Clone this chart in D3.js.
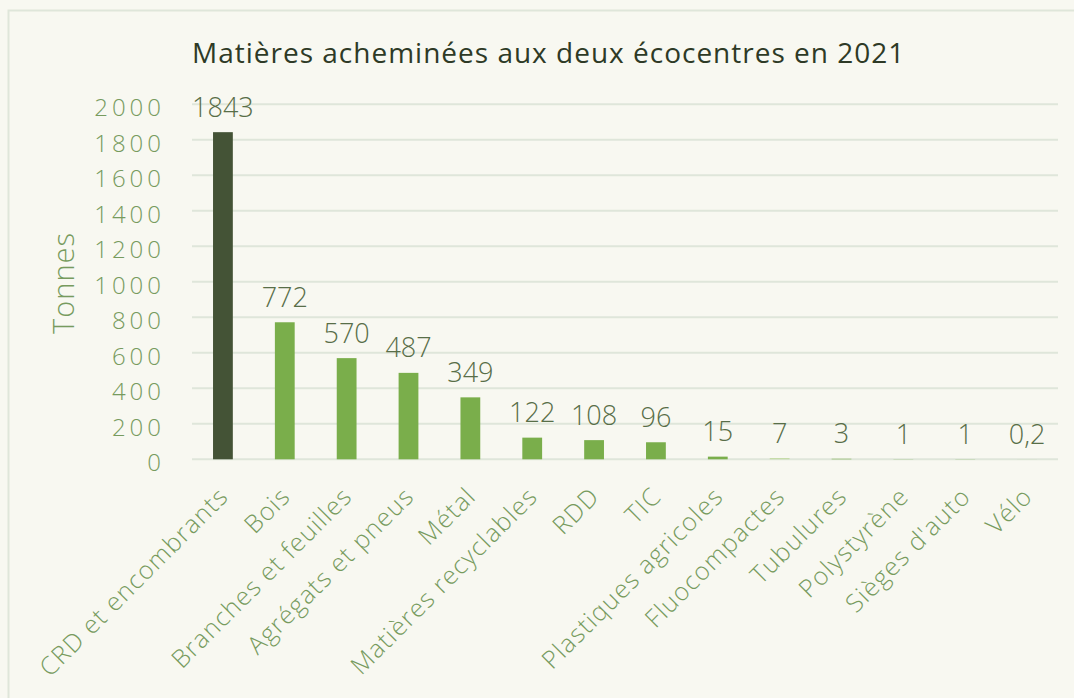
<!DOCTYPE html>
<html lang="fr">
<head>
<meta charset="utf-8">
<script src="https://cdn.jsdelivr.net/npm/d3@7"></script>
<style>
  html, body { margin: 0; padding: 0; background: #f8f8f1; }
  svg { display: block; }
  .tick-label, .cat-label { fill: #779b5e; font-family: 'Open Sans', sans-serif; font-weight: 300; }
  .value-label { fill: #586e48; font-family: 'Open Sans', sans-serif; font-weight: 300; }
</style>
</head>
<body>
<div id="chart"></div>
<script>
// Data
const categories = ['CRD et encombrants', 'Bois', 'Branches et feuilles', 'Agrégats et pneus', 'Métal',
  'Matières recyclables', 'RDD', 'TIC', 'Plastiques agricoles', 'Fluocompactes', 'Tubulures',
  'Polystyrène', "Sièges d'auto", 'Vélo'];
const values = [1843, 772, 570, 487, 349, 122, 108, 96, 15, 7, 3, 1, 1, 0.2];
const valueLabels = ['1843', '772', '570', '487', '349', '122', '108', '96', '15', '7', '3', '1', '1', '0,2'];
const yTicks = [0, 200, 400, 600, 800, 1000, 1200, 1400, 1600, 1800, 2000];

const WIDTH = 1074, HEIGHT = 698;
const PLOT = { left: 192, right: 1058, top: 104.3, bottom: 459.3 };

const svg = d3.select('#chart').append('svg')
  .attr('width', WIDTH)
  .attr('height', HEIGHT);

svg.append('rect')
  .attr('width', WIDTH).attr('height', HEIGHT)
  .attr('fill', '#f8f8f1');

// outer frame
svg.append('rect')
  .attr('x', 8.5).attr('y', 10.5)
  .attr('width', WIDTH + 20).attr('height', HEIGHT + 20)
  .attr('fill', 'none')
  .attr('stroke', '#dfe6da')
  .attr('stroke-width', 2);

// title
svg.append('text')
  .attr('x', 192)
  .attr('y', 62.5)
  .attr('fill', '#2e3a26')
  .style('font-family', "'Open Sans', sans-serif")
  .style('font-size', '28px')
  .style('letter-spacing', '1px')
  .text('Matières acheminées aux deux écocentres en 2021');

const x = d3.scaleBand()
  .domain(categories)
  .range([PLOT.left, PLOT.right])
  .paddingInner(0.68)
  .paddingOuter(0.34);

const y = d3.scaleLinear()
  .domain([0, 2000])
  .range([PLOT.bottom, PLOT.top]);

// gridlines
svg.append('g')
  .selectAll('line')
  .data(yTicks)
  .join('line')
  .attr('x1', PLOT.left)
  .attr('x2', PLOT.right)
  .attr('y1', d => y(d))
  .attr('y2', d => y(d))
  .attr('stroke', '#dfe6da')
  .attr('stroke-width', 2);

// y tick labels
svg.append('g')
  .selectAll('text')
  .data(yTicks)
  .join('text')
  .attr('class', 'tick-label')
  .attr('x', 165)
  .attr('y', d => y(d) + 12)
  .attr('text-anchor', 'end')
  .style('font-size', '24px')
  .style('letter-spacing', '4px')
  .text(d => d);

// y axis title
svg.append('text')
  .attr('class', 'tick-label')
  .attr('transform', 'translate(74,283) rotate(-90)')
  .attr('text-anchor', 'middle')
  .style('font-size', '29px')
  .style('letter-spacing', '1px')
  .text('Tonnes');

// bars
const barColor = (d, i) => i === 0 ? '#445336' : (d === 'Fluocompactes' ? '#c4dba6' : '#7aae4b');

svg.append('g')
  .selectAll('rect')
  .data(categories)
  .join('rect')
  .attr('x', d => x(d))
  .attr('y', (d, i) => y(values[i]))
  .attr('width', x.bandwidth())
  .attr('height', (d, i) => y(0) - y(values[i]))
  .attr('fill', barColor);

// value labels
svg.append('g')
  .selectAll('text')
  .data(categories)
  .join('text')
  .attr('class', 'value-label')
  .attr('x', d => x(d) + x.bandwidth() / 2)
  .attr('y', (d, i) => y(values[i]) - 15.5)
  .attr('text-anchor', 'middle')
  .style('font-size', '27px')
  .text((d, i) => valueLabels[i]);

// category labels
svg.append('g')
  .selectAll('text')
  .data(categories)
  .join('text')
  .attr('class', 'cat-label')
  .attr('transform', d => `translate(${x(d) + x.bandwidth() / 2 + 7},498) rotate(-45)`)
  .attr('text-anchor', 'end')
  .style('font-size', '25px')
  .style('letter-spacing', '1.2px')
  .text(d => d);
</script>
</body>
</html>
